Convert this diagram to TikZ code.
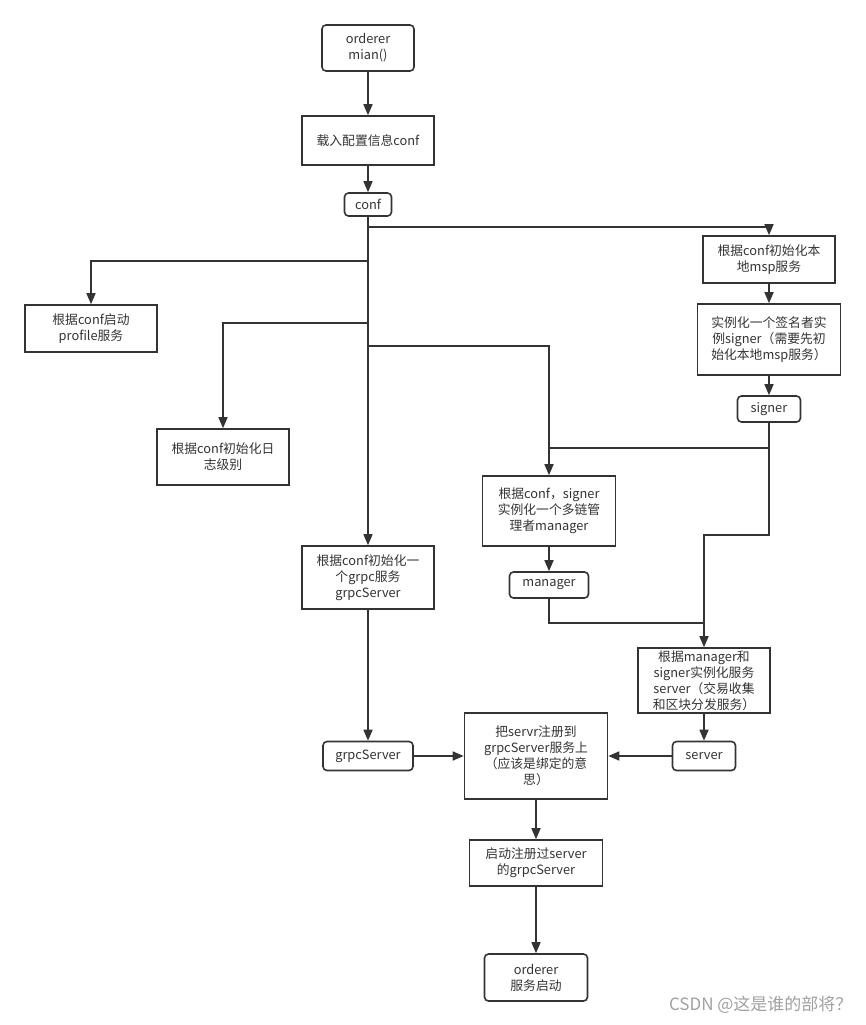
\documentclass[tikz,border=0pt]{standalone}
\usepackage{fontspec}
\usepackage{xcolor}
\usepackage{tikz}
\usetikzlibrary{arrows.meta}
\newfontfamily\cjk{Noto Sans CJK SC}
\definecolor{ink}{HTML}{333333}
\definecolor{mark}{HTML}{A0A0A0}

\begin{document}
\begin{tikzpicture}[
  x=1pt, y=-1pt,
  box/.style={draw=ink, line width=1.6pt, rectangle, inner sep=0pt, minimum width=132pt, align=center, text=ink, font=\cjk\fontsize{12.8}{16}\selectfont},
  rbox/.style={box, rounded corners=4pt},
  arr/.style={-{Triangle[length=11pt, width=9pt]}, line width=1.6pt, draw=ink},
  wire/.style={line width=1.6pt, draw=ink}
]
  \useasboundingbox (0,0) rectangle (865,1025);

  % main column
  \node[rbox, minimum width=92pt, minimum height=46pt] (top) at (368,48) {orderer\\mian()};
  \node[box, minimum height=49pt] (load) at (368,140.5) {载入配置信息conf};
  \node[rbox, minimum width=47pt, minimum height=23pt] (conf) at (368,204.5) {conf};

  % boxes fed by conf
  \node[box, minimum height=47pt] (profile) at (91,328.5) {根据conf启动\\profile服务};
  \node[box, minimum height=56pt] (loglvl) at (223,457) {根据conf初始化日\\志级别};
  \node[box, minimum height=63pt] (grpc) at (368,577.5) {根据conf初始化一\\个grpc服务\\grpcServer};
  \node[box, minimum height=47pt] (msp) at (769,259.5) {根据conf初始化本\\地msp服务};

  % signer and manager
  \node[box, minimum width=143pt, minimum height=71pt] (signbox) at (769,339.5) {实例化一个签名者实\\例signer（需要先初\\始化本地msp服务）};
  \node[rbox, minimum width=63pt, minimum height=26pt] (signer) at (769,409) {signer};
  \node[box, minimum width=133pt, minimum height=70pt] (mgrbox) at (549,511) {根据conf，signer\\实例化一个多链管\\理者manager};
  \node[rbox, minimum width=79pt, minimum height=26pt] (manager) at (549,585) {manager};
  \node[box, minimum height=65pt] (srvbox) at (704,680.5) {根据manager和\\signer实例化服务\\server（交易收集\\和区块分发服务）};

  % bottom part
  \node[rbox, minimum width=90pt, minimum height=29pt] (grpcsrv) at (368,756) {grpcServer};
  \node[rbox, minimum width=63pt, minimum height=29pt] (server) at (704,756) {server};
  \node[box, minimum width=143pt, minimum height=86pt] (reg) at (536,756) {把servr注册到\\grpcServer服务上\\（应该是绑定的意\\思）};
  \node[box, minimum width=133pt, minimum height=46pt] (start) at (536,863) {启动注册过server\\的grpcServer};
  \node[rbox, minimum width=103pt, minimum height=47pt] (done) at (536,977.5) {orderer\\服务启动};

  % junctions
  \coordinate (b1) at (368,227);
  \coordinate (b2) at (368,261);
  \coordinate (b3) at (368,323);
  \coordinate (b4) at (368,346);
  \coordinate (m1) at (549,448);
  \coordinate (s1) at (769,535);
  \coordinate (s2) at (704,535);
  \coordinate (m2) at (549,623);
  \coordinate (m3) at (704,623);

  % connectors
  \draw[arr] (top) -- (load);
  \draw[arr] (load) -- (conf);
  \draw[arr] (conf) -- (grpc);
  \draw[arr] (b1) -| (msp);
  \draw[arr] (b2) -| (profile);
  \draw[arr] (b3) -| (loglvl);
  \draw[arr] (b4) -| (mgrbox);
  \draw[arr] (msp) -- (signbox);
  \draw[arr] (signbox) -- (signer);
  \draw[wire] (signer) |- (m1);
  \draw[arr] (signer) -- (s1) -- (s2) -- (srvbox);
  \draw[arr] (mgrbox) -- (manager);
  \draw[wire] (manager) -- (m2) -- (m3);
  \draw[arr] (srvbox) -- (server);
  \draw[arr] (grpc) -- (grpcsrv);
  \draw[arr] (grpcsrv) -- (reg);
  \draw[arr] (server) -- (reg);
  \draw[arr] (reg) -- (start);
  \draw[arr] (start) -- (done);

  % watermark
  \node[text=mark, font=\cjk\fontsize{17}{20}\selectfont, anchor=east] (wm) at (856,1005) {CSDN @这是谁的部将？};
\end{tikzpicture}
\end{document}
